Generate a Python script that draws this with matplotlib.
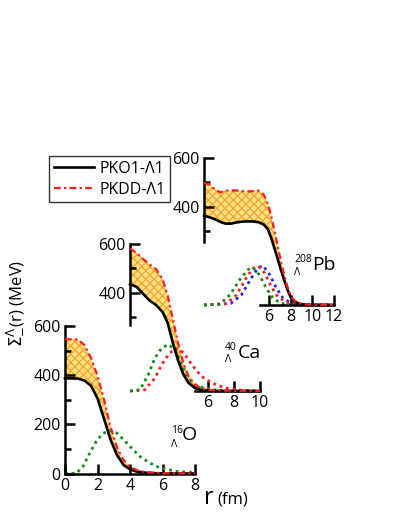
import matplotlib
matplotlib.use("Agg")
import matplotlib.pyplot as plt
from matplotlib.lines import Line2D

plt.rcParams['font.family'] = ['Open Sans', 'DejaVu Sans']
plt.rcParams['mathtext.fontset'] = 'dejavusans'
plt.rcParams['hatch.linewidth'] = 0.9

# ---- data ----
# 16O (Lambda)
r_O = [0, 0.4, 0.8, 1.2, 1.6, 2.0, 2.4, 2.8, 3.2, 3.6, 4.0, 4.4, 5.0, 6.0, 8.0]
pko1_O = [387, 387, 386, 378, 357, 306, 223, 138, 75, 35, 17, 8, 3, 0, 0]
pkdd_O = [546, 546, 545, 522, 471, 397, 301, 190, 106, 54, 27, 14, 5, 1, 0]
rho_r_O = [0, 0.7, 1.1, 1.5, 1.9, 2.3, 2.75, 3.2, 3.6, 4.0, 4.6, 5.2, 5.8, 6.8, 8.0]
rho_O = [0, 1, 28, 80, 128, 162, 175, 164, 138, 110, 70, 43, 24, 9, 3]

# 40Ca (Lambda)
r_Ca = [0, 0.5, 1.0, 1.5, 2.0, 2.5, 2.9, 3.3, 3.7, 4.1, 4.5, 5.0, 5.5, 6.0, 7.0, 8.0, 10.0]
pko1_Ca = [434, 424, 396, 368, 350, 322, 277, 195, 124, 68, 33, 12, 4, 1, 0, 0, 0]
pkdd_Ca = [580, 562, 537, 515, 496, 455, 389, 292, 194, 114, 61, 26, 11, 5, 2, 1, 0]
rho_g_r_Ca = [0, 0.77, 1.41, 1.92, 2.44, 2.95, 3.46, 3.97, 4.49, 5.0, 5.77, 6.8, 8.0, 10.0]
rho_g_Ca = [0, 5, 67, 135, 175, 189, 169, 107, 53, 26, 10, 3, 1, 0]
rho_r_r_Ca = [0, 1.15, 1.92, 2.44, 2.95, 3.46, 3.85, 4.23, 4.74, 5.5, 6.3, 7.3, 8.6, 10.0]
rho_r_Ca = [0, 5, 53, 107, 148, 173, 169, 148, 107, 60, 33, 12, 3, 0]

# 208Pb (Lambda)
r_Pb = [0, 0.5, 1.0, 1.5, 2.0, 2.5, 3.0, 3.5, 4.0, 4.5, 5.0, 5.5, 5.9, 6.2, 6.5,
        6.8, 7.1, 7.4, 7.7, 8.0, 8.4, 8.8, 9.5, 12.0]
pko1_Pb = [363, 357, 349, 338, 331, 331, 336, 339, 340, 340, 337, 328, 308, 274, 231,
           188, 143, 101, 63, 32, 13, 5, 1, 0]
pkdd_Pb = [497, 490, 470, 458, 466, 466, 466, 464, 462, 463, 466, 450, 411, 360, 303,
           240, 178, 122, 75, 36, 16, 7, 2, 0]
rho_b_r_Pb = [0, 2.5, 3.45, 4.37, 5.0, 5.45, 6.06, 6.68, 7.3, 8.06, 9.3, 12.0]
rho_b_Pb = [0, 7, 41, 110, 151, 160, 123, 69, 27, 7, 0, 0]
rho_r_r_Pb = [0, 2.06, 3.0, 3.9, 4.5, 5.0, 5.6, 6.2, 6.8, 7.6, 8.7, 12.0]
rho_r_Pb = [0, 5, 41, 110, 148, 159, 130, 75, 34, 11, 1, 0]
rho_g_r_Pb = [0, 1.45, 2.4, 3.3, 4.06, 4.5, 5.1, 5.75, 6.37, 7.1, 8.0, 12.0]
rho_g_Pb = [0, 3, 41, 103, 144, 153, 123, 69, 27, 7, 1, 0]

labels = ['PKO1-Λ1', 'PKDD-Λ1']

# ---- styles ----
FILL = '#FFE27A'
HATCH = '#F2A33A'
GREEN = '#16891A'
RED = '#FF1E1E'
BLUE = '#1E1EFF'
DASHDOT = (0, (3, 1.5, 1, 1.5))
DOTS = (0, (1, 1.4))
SPINE_LW = 1.8

W, H = 399, 516
fig = plt.figure(figsize=(W / 100, H / 100), dpi=100)


def px(x, y):
    # pixel (from top-left) -> figure fraction
    return x / W, 1 - y / H


def make_axes(left_px, zero_px, xmax):
    ax = fig.add_axes([left_px / W, (H - zero_px) / H, 130 / W, 147.5 / H])
    ax.patch.set_visible(False)
    ax.set_xlim(0, xmax)
    ax.set_ylim(0, 600)
    for s in ['top', 'right']:
        ax.spines[s].set_visible(False)
    for s in ['left', 'bottom']:
        ax.spines[s].set_linewidth(SPINE_LW)
    ax.tick_params(which='major', direction='in', length=7, width=1.8,
                   labelsize=11.5, pad=3)
    ax.tick_params(which='minor', direction='in', length=4.5, width=1.8)
    return ax


def draw(ax, r, pko1, pkdd, dens):
    ax.fill_between(r, pko1, pkdd, facecolor=FILL, edgecolor=HATCH,
                    hatch='xxxx', linewidth=0, zorder=1)
    for rr, yy, c in dens:
        ax.plot(rr, yy, color=c, lw=2, linestyle=DOTS, clip_on=False, zorder=2)
    ax.plot(r, pko1, color='black', lw=1.9, clip_on=False, zorder=3)
    ax.plot(r, pkdd, color=RED, lw=1.6, linestyle=DASHDOT, clip_on=False, zorder=3)


def nucleus(x_sup, y_sup, y_sub, x_main, y_main, mass, name):
    fig.text(*px(x_sup, y_sup), mass, fontsize=7.5, va='baseline')
    fig.text(*px(x_sup, y_sub), 'Λ', fontsize=7.5, va='baseline')
    fig.text(*px(x_main, y_main), name, fontsize=14, va='baseline')


# 16O
axO = make_axes(65, 473.5, 8)
draw(axO, r_O, pko1_O, pkdd_O, [(rho_r_O, rho_O, GREEN)])
axO.set_xticks([0, 2, 4, 6, 8])
axO.set_yticks([0, 200, 400, 600])
axO.set_yticks([100, 300, 500], minor=True)

# 40Ca
axCa = make_axes(130, 391, 10)
draw(axCa, r_Ca, pko1_Ca, pkdd_Ca,
     [(rho_r_r_Ca, rho_r_Ca, RED), (rho_g_r_Ca, rho_g_Ca, GREEN)])
axCa.spines['left'].set_bounds(270, 600)
axCa.spines['bottom'].set_bounds(5, 10)
axCa.set_xticks([6, 8, 10])
axCa.set_yticks([400, 600])
axCa.set_yticks([300, 500], minor=True)

# 208Pb
axPb = make_axes(204, 305, 12)
draw(axPb, r_Pb, pko1_Pb, pkdd_Pb,
     [(rho_b_r_Pb, rho_b_Pb, BLUE), (rho_r_r_Pb, rho_r_Pb, RED),
      (rho_g_r_Pb, rho_g_Pb, GREEN)])
axPb.spines['left'].set_bounds(255, 600)
axPb.spines['bottom'].set_bounds(5.2, 12)
axPb.set_xticks([6, 8, 10, 12])
axPb.set_yticks([400, 600])
axPb.set_yticks([300, 500], minor=True)

# nucleus labels
nucleus(171, 433, 447, 182, 440, '16', 'O')
nucleus(225, 350, 362, 238, 358, '40', 'Ca')
nucleus(294, 262, 275, 312, 270, '208', 'Pb')

# axis labels
fig.text(*px(15, 303), r'$\Sigma^{\Lambda}_{-}$(r) (MeV)', rotation=90,
         ha='center', va='center', fontsize=12)
fig.text(*px(204, 504), 'r', fontsize=17, va='baseline')
fig.text(*px(217, 504), '(fm)', fontsize=12, va='baseline')

# legend
handles = [Line2D([], [], color='black', lw=1.9),
           Line2D([], [], color=RED, lw=1.6, linestyle=DASHDOT)]
leg = fig.legend(handles, labels, loc='upper left',
                 bbox_to_anchor=px(49, 156), fontsize=11.5,
                 frameon=True, fancybox=False, borderpad=0.3, borderaxespad=0,
                 handlelength=2.5, handletextpad=0.35, labelspacing=0.3,
                 handleheight=0.7)
leg.get_frame().set_edgecolor('black')
leg.get_frame().set_linewidth(1.0)

fig.savefig('out.png', dpi=100)
